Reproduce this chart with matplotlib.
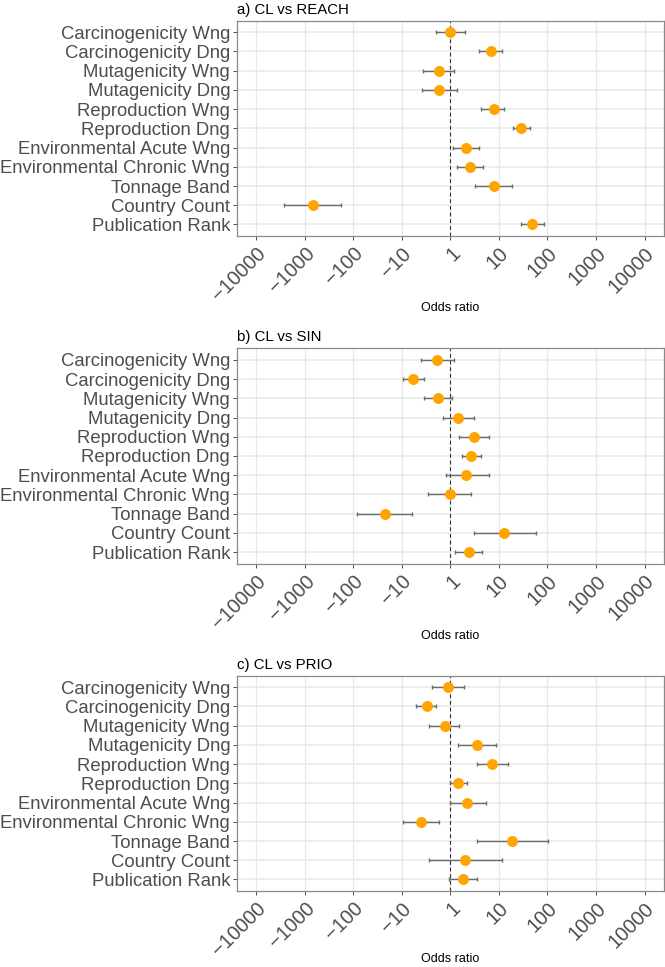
import numpy as np
import matplotlib
matplotlib.use('Agg')
import matplotlib.pyplot as plt
import matplotlib.transforms as mtransforms

plt.rcParams['font.family'] = ['Liberation Sans', 'DejaVu Sans']

# row labels, top to bottom
variables = [
    'Carcinogenicity Wng', 'Carcinogenicity Dng', 'Mutagenicity Wng',
    'Mutagenicity Dng', 'Reproduction Wng', 'Reproduction Dng',
    'Environmental Acute Wng', 'Environmental Chronic Wng', 'Tonnage Band',
    'Country Count', 'Publication Rank']

# odds ratios on the plotted log axis (0 = 1, 1 = 10, -1 = -10 ...)
reach_est = [0.00, 0.83, -0.24, -0.23, 0.89, 1.46, 0.32, 0.40, 0.89, -2.83, 1.69]
reach_lo = [-0.30, 0.60, -0.56, -0.59, 0.64, 1.28, 0.05, 0.14, 0.51, -3.43, 1.45]
reach_hi = [0.31, 1.06, 0.08, 0.13, 1.11, 1.64, 0.59, 0.68, 1.27, -2.25, 1.92]

sin_est = [-0.27, -0.76, -0.26, 0.16, 0.48, 0.42, 0.33, -0.01, -1.34, 1.11, 0.38]
sin_lo = [-0.61, -0.98, -0.55, -0.16, 0.18, 0.23, -0.09, -0.46, -1.92, 0.48, 0.10]
sin_hi = [0.08, -0.55, 0.03, 0.49, 0.79, 0.63, 0.79, 0.43, -0.78, 1.77, 0.65]

prio_est = [-0.04, -0.49, -0.12, 0.54, 0.86, 0.16, 0.35, -0.61, 1.26, 0.31, 0.26]
prio_lo = [-0.38, -0.71, -0.43, 0.16, 0.55, -0.01, 0.00, -0.98, 0.55, -0.44, -0.03]
prio_hi = [0.29, -0.29, 0.18, 0.93, 1.18, 0.35, 0.74, -0.24, 2.01, 1.06, 0.55]

tick_pos = [-4, -3, -2, -1, 0, 1, 2, 3, 4]
tick_labels = ['\u221210000', '\u22121000', '\u2212100', '\u221210', '1',
               '10', '100', '1000', '10000']

panels = [
    ('a) CL vs REACH', reach_est, reach_lo, reach_hi),
    ('b) CL vs SIN', sin_est, sin_lo, sin_hi),
    ('c) CL vs PRIO', prio_est, prio_lo, prio_hi),
]

W, H = 665, 967
fig = plt.figure(figsize=(W / 100, H / 100), dpi=100)

left, right = 236.7, 664.0
tops = [20.7, 348.3, 675.7]
ph = 215.3
label_y = [308, 636, 959]


def forest(ax, title, est, lo, hi):
    n = len(variables)
    y = np.arange(n)[::-1] + 1
    est, lo, hi = np.asarray(est), np.asarray(lo), np.asarray(hi)
    ax.set_xlim(-4.4, 4.4)
    ax.set_ylim(0.4, n + 0.6)
    for t in tick_pos:
        ax.axvline(t, color='#e8e8e8', lw=0.9, zorder=0)
    for yy in y:
        ax.axhline(yy, color='#e8e8e8', lw=1.1, zorder=0)
    ax.axvline(0, color='#333333', lw=0.8, ls=(0, (3.5, 2.5)), zorder=1)
    ax.errorbar(est, y, xerr=[est - lo, hi - est], fmt='none',
                ecolor='#6b6b6b', elinewidth=1.0, capsize=1.7, capthick=1.0,
                zorder=2)
    ax.plot(est, y, 'o', color='#ffa500', markersize=7.9, markeredgewidth=0,
            zorder=3)
    ax.set_yticks(y)
    ax.set_yticklabels(variables, fontsize=13.3, color='#4d4d4d')
    ax.set_xticks(tick_pos)
    ax.set_xticklabels(tick_labels, fontsize=14.5, color='#4d4d4d',
                       rotation=45, ha='right', va='top',
                       rotation_mode='anchor')
    # nudge rotated labels a little right/up, like the ggplot original
    shift = mtransforms.ScaledTranslation(6 / 100, 3 / 100, fig.dpi_scale_trans)
    for lab in ax.get_xticklabels():
        lab.set_transform(lab.get_transform() + shift)
    ax.tick_params(axis='both', length=2.7, width=0.6, color='#333333',
                   pad=2)
    ax.tick_params(axis='x', pad=3)
    for s in ax.spines.values():
        s.set_color('#8a8a8a')
        s.set_linewidth(0.9)
    ax.set_title(title, loc='left', fontsize=10.8, pad=5)


for (title, est, lo, hi), top, ly in zip(panels, tops, label_y):
    ax = fig.add_axes([left / W, 1 - (top + ph) / H, (right - left) / W, ph / H])
    forest(ax, title, est, lo, hi)
    fig.text(450 / W, 1 - ly / H, 'Odds ratio', fontsize=9,
             ha='center', va='center')

fig.savefig('out.png', dpi=100)
